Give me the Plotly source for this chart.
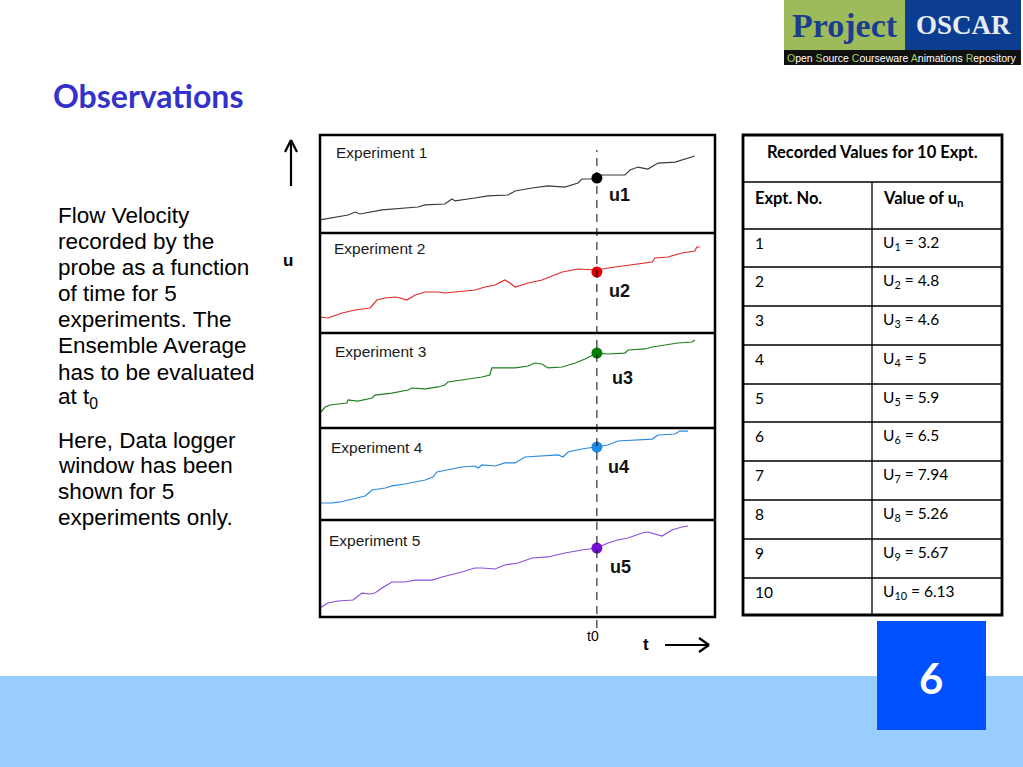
import plotly.graph_objects as go

W, H = 1023, 767
def px(x): return x / W
def py(y): return 1 - y / H

# ---------------- data ----------------
t0 = 70.1
exp1_t = [0, 7.1, 8.9, 10.1, 15.7, 19.0, 24.8, 26.6, 31.6, 33.4, 34.2, 39.2, 42.5, 47.6, 49.4, 53.7, 57.7, 62.0, 65.3, 66.3, 70.1, 71.4, 77.2, 78.5, 80.5, 83.0, 85.6, 89.9, 92.4, 94.9]
exp1_u = [1.33, 1.84, 2.14, 1.94, 2.35, 2.45, 2.65, 2.86, 2.96, 3.47, 3.27, 3.57, 3.78, 3.88, 4.29, 4.59, 4.80, 4.69, 5.10, 5.51, 5.51, 5.92, 5.92, 6.43, 6.73, 6.53, 7.14, 7.24, 7.55, 7.86]
exp2_t = [0, 2.0, 5.6, 8.9, 12.7, 13.9, 14.4, 16.5, 19.0, 20.3, 22.0, 24.1, 26.6, 29.9, 31.6, 34.2, 39.2, 41.8, 44.3, 46.8, 48.1, 49.4, 52.7, 56.2, 59.5, 61.3, 65.3, 70.1, 72.9, 79.0, 84.1, 84.8, 88.1, 91.6, 94.9, 95.4, 96.2]
exp2_u = [1.6, 1.5, 2.0, 2.3, 2.5, 3.0, 3.3, 3.5, 3.6, 3.5, 3.3, 3.8, 4.1, 4.1, 4.0, 4.1, 4.3, 4.6, 4.8, 5.3, 5.0, 4.6, 5.0, 5.3, 5.8, 6.1, 6.4, 6.3, 6.5, 6.8, 7.1, 7.5, 7.6, 8.0, 8.2, 8.6, 8.6]
exp3_t = [0, 1.3, 2.5, 6.8, 7.1, 9.6, 13.2, 13.9, 18.2, 22.3, 23.3, 26.6, 29.9, 31.6, 32.4, 35.9, 41.0, 43.0, 43.5, 46.1, 49.4, 52.7, 54.4, 56.2, 57.7, 61.3, 64.6, 67.1, 68.9, 70.1, 72.9, 77.2, 78.0, 82.3, 84.1, 88.1, 90.6, 94.2, 94.9]
exp3_u = [1.58, 2.21, 2.42, 2.63, 2.95, 2.84, 3.16, 3.47, 3.68, 4.00, 4.21, 4.11, 4.32, 4.53, 4.84, 5.05, 5.37, 5.58, 6.32, 6.32, 6.32, 6.53, 6.84, 6.74, 6.32, 6.42, 6.84, 7.26, 7.68, 7.89, 7.79, 7.89, 8.21, 8.32, 8.53, 8.74, 8.95, 9.05, 9.26]
exp4_t = [0, 3.0, 5.1, 7.1, 11.4, 13.2, 16.5, 18.2, 21.5, 26.6, 28.6, 29.6, 32.4, 35.9, 39.2, 40.0, 41.0, 44.3, 46.8, 49.4, 51.9, 56.2, 60.3, 61.5, 62.8, 66.3, 70.1, 72.9, 75.4, 79.7, 84.1, 85.6, 89.9, 91.1, 93.2]
exp4_u = [1.85, 1.85, 1.96, 2.17, 2.61, 3.26, 3.48, 3.70, 3.91, 4.35, 4.67, 5.22, 5.43, 5.76, 5.87, 5.65, 5.98, 5.87, 6.20, 6.20, 6.85, 6.96, 7.07, 6.85, 7.39, 7.72, 7.93, 8.15, 8.59, 8.70, 8.80, 9.24, 9.35, 9.67, 9.67]
exp5_t = [0, 2.0, 4.6, 8.4, 10.6, 12.7, 13.9, 15.7, 18.2, 21.5, 24.1, 28.4, 30.9, 34.2, 35.9, 39.2, 41.0, 44.3, 46.8, 50.1, 53.7, 57.7, 62.0, 66.3, 70.1, 72.9, 75.4, 78.0, 81.5, 83.0, 86.6, 89.1, 91.6, 93.2]
exp5_u = [0.93, 1.44, 1.65, 1.75, 2.47, 2.37, 2.47, 2.99, 3.61, 3.61, 3.81, 3.81, 4.12, 4.43, 4.64, 5.05, 5.05, 4.95, 5.36, 5.57, 6.08, 6.19, 6.60, 6.91, 7.11, 7.63, 7.94, 8.14, 8.66, 8.76, 8.35, 8.97, 9.28, 9.38]
u_at_t0 = [5.6, 6.1, 7.89, 7.93, 7.11]
exp_names = ["Experiment 1", "Experiment 2", "Experiment 3", "Experiment 4", "Experiment 5"]
u_labels = ["u1", "u2", "u3", "u4", "u5"]

table_expt = ["1", "2", "3", "4", "5", "6", "7", "8", "9", "10"]
table_u = ["3.2", "4.8", "4.6", "5", "5.9", "6.5", "7.94", "5.26", "5.67", "6.13"]

# ---------------- styling ----------------
line_cols = ["#3a3a3a", "#e02a2a", "#1f7f1f", "#2a8ae0", "#8a4fe0"]
dot_cols = ["#000000", "#e00000", "#008000", "#1e88e5", "#7010d0"]
panel_bounds = [(135, 233), (233, 333), (333, 428), (428, 520), (520, 617)]  # pixel top/bottom
exp_label_pos = [(335, 152), (333, 249), (334, 351), (330, 448), (328, 540)]
u_label_pos = [(608, 195), (608, 291), (611, 378), (607, 467), (609, 567)]

series = [(exp1_t, exp1_u), (exp2_t, exp2_u), (exp3_t, exp3_u), (exp4_t, exp4_u), (exp5_t, exp5_u)]

fig = go.Figure()
layout = dict(width=W, height=H, margin=dict(l=0, r=0, t=0, b=0),
              paper_bgcolor="white", plot_bgcolor="rgba(0,0,0,0)", showlegend=False)
for i, ((tt, uu), (top, bot)) in enumerate(zip(series, panel_bounds)):
    k = "" if i == 0 else str(i + 1)
    layout["xaxis" + k] = dict(domain=[px(320), px(715)], range=[0, 100], visible=False,
                               anchor="y" + k, fixedrange=True)
    layout["yaxis" + k] = dict(domain=[py(bot), py(top)], range=[0, 10], visible=False,
                               anchor="x" + k, fixedrange=True)
    fig.add_trace(go.Scatter(x=tt, y=uu, mode="lines", line=dict(color=line_cols[i], width=1.2),
                             xaxis="x" + k, yaxis="y" + k, hoverinfo="skip"))
    fig.add_trace(go.Scatter(x=[t0], y=[u_at_t0[i]], mode="markers",
                             marker=dict(color=dot_cols[i], size=11),
                             xaxis="x" + k, yaxis="y" + k, hoverinfo="skip"))
fig.update_layout(**layout)

shapes = []
ann = []
def rect(x0, y0, x1, y1, fill, lw=0, lc=None):
    shapes.append(dict(type="rect", xref="paper", yref="paper", x0=px(x0), x1=px(x1), y0=py(y1), y1=py(y0),
                       fillcolor=fill, line=dict(width=lw, color=lc or fill), layer="below"))
def line(x0, y0, x1, y1, lw=1, col="black", dash="solid"):
    shapes.append(dict(type="line", xref="paper", yref="paper", x0=px(x0), x1=px(x1), y0=py(y0), y1=py(y1),
                       line=dict(width=lw, color=col, dash=dash)))
def text(x, y, s, size, col="black", fam="Liberation Sans", xa="left", ya="middle", bold=False):
    if bold:
        s = "<b>" + s + "</b>"
    ann.append(dict(x=px(x), y=py(y), xref="paper", yref="paper", text=s, showarrow=False,
                    xanchor=xa, yanchor=ya, font=dict(size=size, color=col, family=fam), borderpad=0))

# bottom band and page number box
rect(0, 676, W, H, "#99ccff")
rect(877, 621, 986, 730, "#0050ff")
shapes[-1]["layer"] = "above"
text(931, 678, "6", 42, "white", "Lato", xa="center", bold=True)

# logo
rect(784, 0, 905, 50, "#9dbb5a")
rect(905, 0, 1021, 50, "#0b3e91")
rect(784, 50, 1021, 65, "#111111")
text(845, 25, "Project", 34, "#1a3d8f", "Liberation Serif", xa="center", bold=True)
text(963, 25, "OSCAR", 27, "#e6ecf2", "Liberation Serif", xa="center", bold=True)
g = '<span style="color:#a6d052">%s</span>'
sub = (g % "O") + "pen " + (g % "S") + "ource " + (g % "C") + "ourseware " + (g % "A") + "nimations " + (g % "R") + "epository"
text(902, 58, sub, 10.5, "white", "Liberation Sans", xa="center")

# title
text(52, 96, "Observations", 32, "#3333cc", "Lato", bold=True)

# left paragraph
para1 = ["Flow Velocity", "recorded by the", "probe as a function", "of time for 5",
         "experiments. The", "Ensemble Average", "has to be evaluated", "at t<sub>0</sub>"]
for j, s in enumerate(para1):
    text(57, 215 + j * 26.2, s, 22.5)
para2 = ["Here, Data logger", "window has been", "shown for 5", "experiments only."]
for j, s in enumerate(para2):
    text(57, 440 + j * 25.7, s, 22.5)

# panels
shapes.append(dict(type="rect", xref="paper", yref="paper", x0=px(320), x1=px(715), y0=py(617), y1=py(135),
                   line=dict(width=2.5, color="black"), fillcolor="rgba(0,0,0,0)"))
for (top, bot) in panel_bounds[1:]:
    line(320, top, 715, top, 2.5)
shapes.append(dict(type="line", xref="x", yref="paper", x0=t0, x1=t0, y0=py(628), y1=py(150),
                   line=dict(width=1, color="black", dash="8px,6px")))
for i in range(5):
    text(exp_label_pos[i][0], exp_label_pos[i][1], exp_names[i], 15.5, "#1a1a1a")
    text(u_label_pos[i][0], u_label_pos[i][1], u_labels[i], 18, "#111111", bold=True)

# axes arrows and labels
line(291, 140, 291, 186, 2.2)
line(291, 140, 285, 152, 2.2)
line(291, 140, 297, 152, 2.2)
text(288, 260, "u", 17, bold=True, xa="center")
line(665, 645, 709, 645, 2.2)
line(709, 645, 699, 638, 2.2)
line(709, 645, 699, 652, 2.2)
text(646, 644, "t", 17, bold=True, xa="center")
text(593, 636, "t0", 14, xa="center")

# table
TL, TR, TM = 743, 1002, 872
rows = [229, 267, 306, 345, 384, 422, 461, 500, 539, 578, 615]
shapes.append(dict(type="rect", xref="paper", yref="paper", x0=px(TL), x1=px(TR), y0=py(615), y1=py(135),
                   line=dict(width=2.8, color="black"), fillcolor="white", layer="below"))
line(TL, 182, TR, 182, 1.3)
for r in rows[:-1]:
    line(TL, r, TR, r, 1.3)
line(TM, 182, TM, 615, 1.3)
tf = "Lato"
text(TM, 152, "Recorded Values for 10 Expt.", 16.5, fam=tf, xa="center", bold=True)
text(754, 198, "Expt. No.", 16.5, fam=tf, bold=True)
text(882, 198, "Value of u<sub>n</sub>", 16.5, fam=tf, bold=True)
for j in range(10):
    yc = rows[j] + 14
    text(754, yc, table_expt[j], 15.5, fam=tf)
    text(882, yc, "U<sub>%s</sub> = %s" % (table_expt[j], table_u[j]), 15.5, fam=tf)

fig.update_layout(shapes=shapes, annotations=ann)
fig.write_html("out.html", config={"displayModeBar": False},
               post_script="document.body.style.margin='0';document.body.style.overflow='hidden';")
